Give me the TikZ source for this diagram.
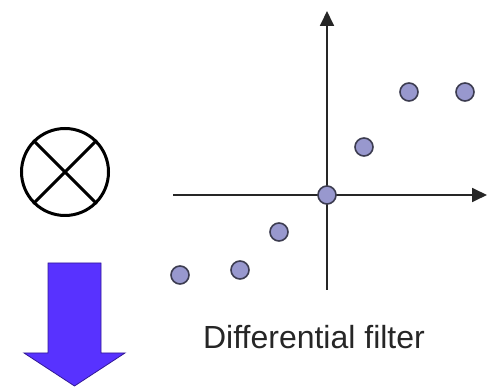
\documentclass[tikz,border=0pt]{standalone}
\usepackage{fontspec}
\setmainfont{Liberation Sans}
\usetikzlibrary{arrows.meta}
\definecolor{dotfill}{RGB}{152,152,206}
\definecolor{dotline}{RGB}{60,60,80}
\definecolor{arrowfill}{RGB}{88,50,255}
\definecolor{arrowline}{RGB}{50,25,150}

\begin{document}
\begin{tikzpicture}[
    x=1pt, y=-1pt,
    >={Triangle[length=15pt, width=14pt]},
    axis/.style={->, line width=1.8pt, black!85},
    pt/.style={
        circle,
        draw=dotline,
        fill=dotfill,
        line width=1.6pt,
        minimum size=18pt,
        inner sep=0pt
    },
    mulop/.style={circle, draw, line width=3pt, minimum size=87pt, inner sep=0pt},
    caption/.style={font=\fontsize{32}{36}\selectfont, text=black!85}
]
\useasboundingbox (0,0) rectangle (488,387);

% axes
\coordinate (o)  at (327,195);
\coordinate (xl) at (173,195);
\coordinate (xr) at (487,195);
\coordinate (yb) at (327,290);
\coordinate (yt) at (327,11);
\draw[axis] (xl) -- (xr);
\draw[axis] (yb) -- (yt);

% points
\node[pt] (p1) at (180,275) {};
\node[pt] (p2) at (240,270) {};
\node[pt] (p3) at (279,232) {};
\node[pt] (p4) at (o)       {};
\node[pt] (p5) at (364,147) {};
\node[pt] (p6) at (409,92)  {};
\node[pt] (p7) at (465,92)  {};

% produit
\node[mulop] (mul) at (65,172) {};
\draw[line width=3pt] (mul.north west) -- (mul.south east);
\draw[line width=3pt] (mul.north east) -- (mul.south west);

% grosse fleche
\draw[fill=arrowfill, draw=arrowline, line width=0.8pt]
    (48,263) -- (101,263) -- (101,353) -- (125,353) -- (74.5,386)
    -- (24,353) -- (48,353) -- cycle;

% legende
\node[caption] (lbl) at (314,337) {Differential filter};

\end{tikzpicture}
\end{document}
